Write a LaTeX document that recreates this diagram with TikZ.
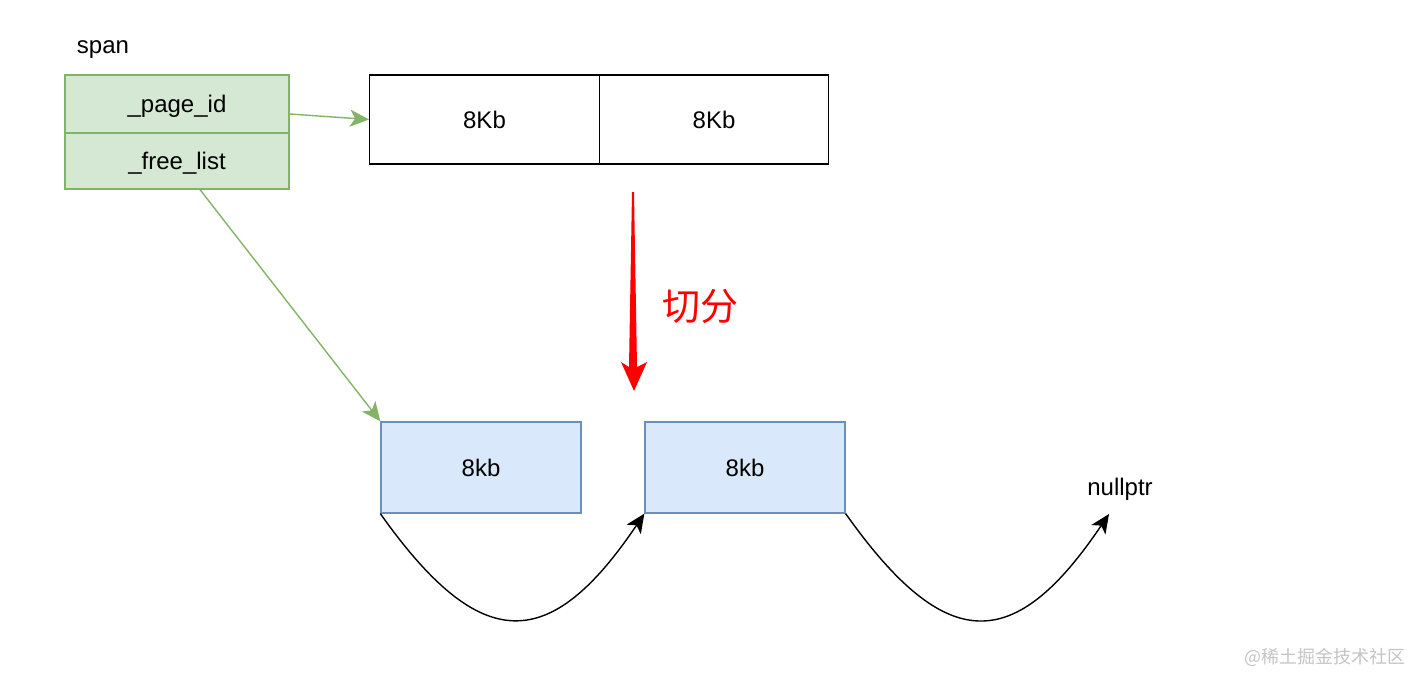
\documentclass[tikz,border=0pt]{standalone}
\usepackage{fontspec}
\setmainfont{Liberation Sans}
\newfontfamily\cjk{Noto Sans CJK SC}
\usetikzlibrary{arrows.meta}
\definecolor{gfill}{HTML}{D5E8D4}
\definecolor{gline}{HTML}{82B366}
\definecolor{bfill}{HTML}{DAE8FC}
\definecolor{bline}{HTML}{6C8EBF}
\definecolor{mark}{HTML}{C4C4C4}

\begin{document}
\begin{tikzpicture}[x=1pt,y=-1pt,
  every node/.style={font=\fontsize{24}{29}\selectfont,inner sep=0pt},
  link/.style={-{Stealth[length=19pt,width=17pt,inset=5pt]},line width=1.4pt},
  gcell/.style={draw=gline,fill=gfill,line width=1.3pt,minimum width=224pt,text depth=0pt},
  page/.style={draw=black,line width=1.3pt,minimum width=229.5pt,minimum height=89pt},
  obj/.style={draw=bline,fill=bfill,line width=1.3pt,minimum width=200pt,minimum height=91pt}]
  \useasboundingbox (0,0) rectangle (1411,674);
  % span
  \node (span) at (103,50) {span};
  \node[gcell,minimum height=58pt] (pageid) at (177,104) {\_page\_id};
  \node[gcell,minimum height=56pt] (freelist) at (177,161) {\_free\_list};
  % pages
  \node[page] (blkA) at (484.5,119.5) {8Kb};
  \node[page] (blkB) at (714,119.5) {8Kb};
  \draw[link,gline] ([yshift=-10pt]pageid.east) -- (blkA.west);
  % cut
  \fill[red] (632,192) -- (634,192) -- (637,367) -- (647,362) -- (634,391)
    -- (621,362) -- (629,367) -- cycle;
  \node[text=red,font=\cjk\fontsize{38}{44}\selectfont] (cut) at (700,306) {切分};
  % objects
  \node[obj] (objA) at (481,467.5) {8kb};
  \node[obj] (objB) at (745,467.5) {8kb};
  \node (nullptr) at (1120,489) {nullptr};
  \coordinate (nullend) at (1109,514);
  \draw[link,gline] ([xshift=23pt]freelist.south) -- (objA.north west);
  \draw[link] (objA.south west) .. controls +(100,141) and +(-95,141) .. (objB.south west);
  \draw[link] (objB.south east) .. controls +(100,141) and +(-95,141) .. (nullend);
  \node[text=mark,font=\cjk\fontsize{18}{22}\selectfont] (mark) at (1325,657) {@稀土掘金技术社区};
\end{tikzpicture}
\end{document}
